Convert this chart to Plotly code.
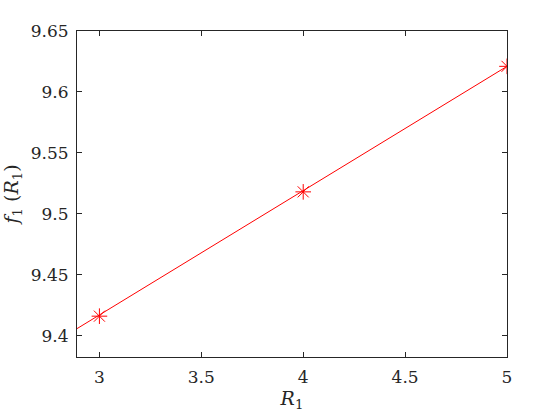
import plotly.graph_objects as go

# ── Data ──────────────────────────────────────────────────────────────────────
R1 = [3, 4, 5]
F1 = [9.416, 9.518, 9.621]

# fitted line, runs past the left edge of the axes
FIT_X = [2.85, 5]
FIT_Y = [9.4017, 9.621]

X_TICKS = [3, 3.5, 4, 4.5, 5]
Y_TICKS = [9.4, 9.45, 9.5, 9.55, 9.6, 9.65]

# ── Style ─────────────────────────────────────────────────────────────────────
RED   = "#ff0000"
AXIS  = "#262626"
FONT  = "DejaVu Serif"

fig = go.Figure()

fig.add_trace(go.Scatter(
    x=FIT_X, y=FIT_Y, mode="lines",
    line=dict(color=RED, width=1),
    showlegend=False, hoverinfo="skip",
))
fig.add_trace(go.Scatter(
    x=R1, y=F1, mode="markers",
    marker=dict(symbol="asterisk-open", size=13, color=RED,
                line=dict(color=RED, width=1)),
    showlegend=False,
))

axis_common = dict(
    showgrid=False, zeroline=False, automargin=False,
    showline=True, linecolor=AXIS, linewidth=1,
    mirror="allticks", ticks="inside", ticklen=5, tickcolor=AXIS,
    tickfont=dict(family=FONT, size=17, color=AXIS),
)

fig.update_layout(
    width=560, height=420,
    paper_bgcolor="white", plot_bgcolor="white",
    margin=dict(l=77, r=53, t=31, b=63),
    font=dict(family=FONT, color=AXIS),
    xaxis=dict(
        **axis_common,
        range=[2.89, 5],
        tickvals=X_TICKS, ticktext=[f"{v:g}" for v in X_TICKS],
        ticklabelstandoff=5,
        title=dict(text="<i>R</i><sub>1</sub>",
                   font=dict(family=FONT, size=19, color=AXIS), standoff=2),
    ),
    yaxis=dict(
        **axis_common,
        range=[9.3825, 9.65],
        tickvals=Y_TICKS, ticktext=[f"{v:g}" for v in Y_TICKS],
        ticklabelstandoff=4,
        title=dict(text="<i>f</i><sub>1</sub> (<i>R</i><sub>1</sub>)",
                   font=dict(family=FONT, size=19, color=AXIS), standoff=8),
    ),
)

# page body has an 8px default margin; drop it so the figure sits at 0,0
fig.write_html("out.html", config={"displayModeBar": False},
               post_script="document.body.style.margin='0';")
